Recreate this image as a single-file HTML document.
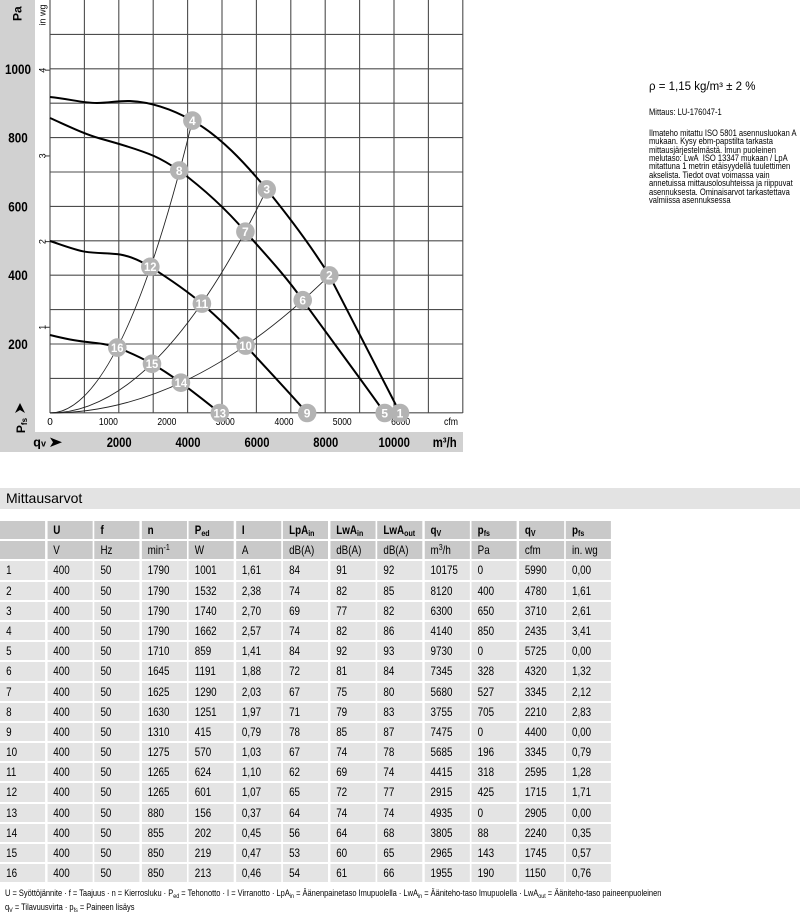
<!DOCTYPE html>
<html><head><meta charset="utf-8">
<style>
html,body{margin:0;padding:0;background:#fff}
body{width:800px;height:914px;position:relative;overflow:hidden;font-family:"Liberation Sans",Arial,sans-serif;color:#000}
.abs{position:absolute;white-space:nowrap}
.sc{transform-origin:0 0}
.tb{position:absolute;left:0;top:521px;width:745.12px;display:grid;grid-template-columns:repeat(13,1fr);column-gap:2.44px;row-gap:2px;grid-auto-rows:18.2px;transform:scaleX(.82);transform-origin:0 0;font-size:12px;background:#fff}
.tb div{background:#e4e4e4;padding-left:7.5px;line-height:18.2px;white-space:nowrap;overflow:hidden}
.tb .h{background:#c9c9c9;font-weight:bold}
.tb .u{background:#c9c9c9}
sub{font-size:72%;line-height:0;vertical-align:-2px}
sup{font-size:72%;line-height:0;vertical-align:4px}
</style></head><body>

<svg class="abs" style="left:0;top:0" width="800" height="460" viewBox="0 0 800 460" font-family="Liberation Sans, Arial, sans-serif">
<rect x="0" y="0" width="35" height="452" fill="#d1d1d1"/>
<rect x="0" y="432" width="463" height="20" fill="#d1d1d1"/>
<g stroke="#4d4d4d" stroke-width="1.1" fill="none">
<path d="M50,0V413M84.4,0V413M118.8,0V413M153.2,0V413M187.6,0V413M222,0V413M256.4,0V413M290.8,0V413M325.2,0V413M359.6,0V413M394,0V413M428.4,0V413M462.8,0V413"/>
<path d="M50,34.4H462.8M50,68.8H462.8M50,103.2H462.8M50,137.6H462.8M50,172H462.8M50,206.4H462.8M50,240.8H462.8M50,275.2H462.8M50,309.6H462.8M50,344H462.8M50,378.4H462.8M50,412.8H462.8"/>
<path d="M45,70.2H50M45,155.9H50M45,241.6H50M45,327.3H50"/>
</g>
<g font-weight="bold" font-size="13.5" text-anchor="middle">
<text x="18" y="73.8" textLength="26" lengthAdjust="spacingAndGlyphs">1000</text>
<text x="18" y="142.6" textLength="19.5" lengthAdjust="spacingAndGlyphs">800</text>
<text x="18" y="211.4" textLength="19.5" lengthAdjust="spacingAndGlyphs">600</text>
<text x="18" y="280.2" textLength="19.5" lengthAdjust="spacingAndGlyphs">400</text>
<text x="18" y="349" textLength="19.5" lengthAdjust="spacingAndGlyphs">200</text>
</g>
<text transform="translate(21.7,13.7) rotate(-90)" text-anchor="middle" font-weight="bold" font-size="12">Pa</text>
<text transform="translate(25,425.5) rotate(-90)" text-anchor="middle" font-weight="bold" font-size="12">P<tspan font-size="8" dy="2">fs</tspan></text>
<polygon points="20,403 25,413 20,410 15,413" fill="#000"/>
<g font-size="9" text-anchor="middle">
<text transform="translate(45.5,15) rotate(-90)">in wg</text>
<text transform="translate(45.5,70.2) rotate(-90)">4</text>
<text transform="translate(45.5,155.9) rotate(-90)">3</text>
<text transform="translate(45.5,241.6) rotate(-90)">2</text>
<text transform="translate(45.5,327.3) rotate(-90)">1</text>
</g>
<g font-size="10" text-anchor="middle">
<text x="50" y="425">0</text>
<text x="108.4" y="425" textLength="19" lengthAdjust="spacingAndGlyphs">1000</text>
<text x="166.9" y="425" textLength="19" lengthAdjust="spacingAndGlyphs">2000</text>
<text x="225.3" y="425" textLength="19" lengthAdjust="spacingAndGlyphs">3000</text>
<text x="284" y="425" textLength="19" lengthAdjust="spacingAndGlyphs">4000</text>
<text x="342.2" y="425" textLength="19" lengthAdjust="spacingAndGlyphs">5000</text>
<text x="400.6" y="425" textLength="19" lengthAdjust="spacingAndGlyphs">6000</text>
<text x="451" y="425" textLength="14" lengthAdjust="spacingAndGlyphs">cfm</text>
</g>
<g font-weight="bold" font-size="13.5" text-anchor="middle">
<text x="119.2" y="446.8" textLength="25" lengthAdjust="spacingAndGlyphs">2000</text>
<text x="188" y="446.8" textLength="25" lengthAdjust="spacingAndGlyphs">4000</text>
<text x="257" y="446.8" textLength="25" lengthAdjust="spacingAndGlyphs">6000</text>
<text x="325.8" y="446.8" textLength="25" lengthAdjust="spacingAndGlyphs">8000</text>
<text x="394.2" y="446.8" textLength="31.5" lengthAdjust="spacingAndGlyphs">10000</text>
<text x="444.7" y="446.8" textLength="24" lengthAdjust="spacingAndGlyphs">m³/h</text>
</g>
<text x="33.3" y="446.5" font-weight="bold" font-size="12.5">q<tspan font-size="9" dy="0">v</tspan></text>
<polygon points="62,442.3 50,437.5 53,442.3 50,447" fill="#000"/>
<g stroke="#222" stroke-width="0.9" fill="none">
<path d="M50,413 Q121.2,413 192.4,120.6"/>
<path d="M50,413 Q158.35,413 266.7,189.4"/>
<path d="M50,413 Q189.65,413 329.3,275.4"/>
</g>
<g stroke="#000" stroke-width="2" fill="none" stroke-linejoin="round">
<path d="M50,97 C70,99 82,103 97,103 C110,103 118,100.5 130,101 C150,102 170,108 192.4,120.6 C220,136 245,163 266.7,189.4 C290,218 311,246 329.3,275.4 C341,299 385,383 400,413"/>
<path d="M50,118 C68,126 84,134 100,138.5 C120,144 140,150 154,156 C163,160 171,165 179.2,170.5 C200,186 225,208 245.4,231.7 C265,254 285,275 302.7,300.2 C330,338 360,378 384.7,413"/>
<path d="M50,241 C62,245 75,250 85,251.7 C97,253.5 110,253 120,254.5 C132,256.5 142,262 150.3,266.8 C168,278 186,290 201.9,303.6 C216,316 231,330 245.6,345.6 C266,368 287,390 307.1,413"/>
<path d="M50,335 C62,338 73,340.5 85,341.7 C97,343 108,344 117.3,347.6 C130,352.5 141,357.5 152,363.8 C162,369.5 171,375.5 180.9,382.7 C194,392.5 207,402.5 219.8,413"/>
</g>
<g fill="#b3b3b3">
<circle cx="329.3" cy="275.4" r="9.3"/>
<circle cx="266.7" cy="189.4" r="9.3"/>
<circle cx="192.4" cy="120.6" r="9.3"/>
<circle cx="384.7" cy="413" r="9.3"/>
<circle cx="400" cy="413" r="9.3"/>
<circle cx="302.7" cy="300.2" r="9.3"/>
<circle cx="245.4" cy="231.7" r="9.3"/>
<circle cx="179.2" cy="170.5" r="9.3"/>
<circle cx="307.1" cy="413" r="9.3"/>
<circle cx="245.6" cy="345.6" r="9.3"/>
<circle cx="201.9" cy="303.6" r="9.3"/>
<circle cx="150.3" cy="266.8" r="9.3"/>
<circle cx="219.8" cy="413" r="9.3"/>
<circle cx="180.9" cy="382.7" r="9.3"/>
<circle cx="152" cy="363.8" r="9.3"/>
<circle cx="117.3" cy="347.6" r="9.3"/>
</g>
<g fill="#fff" font-weight="bold" font-size="12" text-anchor="middle">
<text x="329.3" y="279.7">2</text>
<text x="266.7" y="193.7">3</text>
<text x="192.4" y="124.9">4</text>
<text x="384.7" y="417.3">5</text>
<text x="400" y="417.3">1</text>
<text x="302.7" y="304.5">6</text>
<text x="245.4" y="236">7</text>
<text x="179.2" y="174.8">8</text>
<text x="307.1" y="417.3">9</text>
<text x="245.6" y="349.9" textLength="12.5" lengthAdjust="spacingAndGlyphs">10</text>
<text x="201.9" y="307.9" textLength="12.5" lengthAdjust="spacingAndGlyphs">11</text>
<text x="150.3" y="271.1" textLength="12.5" lengthAdjust="spacingAndGlyphs">12</text>
<text x="219.8" y="417.3" textLength="12.5" lengthAdjust="spacingAndGlyphs">13</text>
<text x="180.9" y="387" textLength="12.5" lengthAdjust="spacingAndGlyphs">14</text>
<text x="152" y="368.1" textLength="12.5" lengthAdjust="spacingAndGlyphs">15</text>
<text x="117.3" y="351.9" textLength="12.5" lengthAdjust="spacingAndGlyphs">16</text>
</g>
</svg>

<div class="abs" style="left:649px;top:79px;font-size:11.5px;line-height:16px">ρ = 1,15 kg/m³ ± 2 %</div>
<div class="abs sc" style="left:649px;top:107.3px;font-size:9px;line-height:10px;transform:scaleX(.84)">Mittaus: LU-176047-1</div>
<div class="abs sc" style="left:649px;top:128.8px;font-size:9px;line-height:8.4px;transform:scaleX(.84)">Ilmateho mitattu ISO 5801 asennusluokan A<br>mukaan. Kysy ebm-papstilta tarkasta<br>mittausjärjestelmästä. Imun puoleinen<br>melutaso: LwA&nbsp; ISO 13347 mukaan / LpA<br>mitattuna 1 metrin etäisyydellä tuulettimen<br>akselista. Tiedot ovat voimassa vain<br>annetuissa mittausolosuhteissa ja riippuvat<br>asennuksesta. Ominaisarvot tarkastettava<br>valmiissa asennuksessa</div>

<div class="abs" style="left:0;top:488px;width:800px;height:21px;background:#e3e3e3"></div>
<div class="abs" style="left:6px;top:488px;font-size:14px;line-height:21px">Mittausarvot</div>

<div class="tb">
<div class="h"></div><div class="h">U</div><div class="h">f</div><div class="h">n</div><div class="h">P<sub>ed</sub></div><div class="h">I</div><div class="h">LpA<sub>in</sub></div><div class="h">LwA<sub>in</sub></div><div class="h">LwA<sub>out</sub></div><div class="h">q<sub>V</sub></div><div class="h">p<sub>fs</sub></div><div class="h">q<sub>V</sub></div><div class="h">p<sub>fs</sub></div>
<div class="u"></div><div class="u">V</div><div class="u">Hz</div><div class="u">min<sup>-1</sup></div><div class="u">W</div><div class="u">A</div><div class="u">dB(A)</div><div class="u">dB(A)</div><div class="u">dB(A)</div><div class="u">m<sup>3</sup>/h</div><div class="u">Pa</div><div class="u">cfm</div><div class="u">in. wg</div>
<div>1</div><div>400</div><div>50</div><div>1790</div><div>1001</div><div>1,61</div><div>84</div><div>91</div><div>92</div><div>10175</div><div>0</div><div>5990</div><div>0,00</div>
<div>2</div><div>400</div><div>50</div><div>1790</div><div>1532</div><div>2,38</div><div>74</div><div>82</div><div>85</div><div>8120</div><div>400</div><div>4780</div><div>1,61</div>
<div>3</div><div>400</div><div>50</div><div>1790</div><div>1740</div><div>2,70</div><div>69</div><div>77</div><div>82</div><div>6300</div><div>650</div><div>3710</div><div>2,61</div>
<div>4</div><div>400</div><div>50</div><div>1790</div><div>1662</div><div>2,57</div><div>74</div><div>82</div><div>86</div><div>4140</div><div>850</div><div>2435</div><div>3,41</div>
<div>5</div><div>400</div><div>50</div><div>1710</div><div>859</div><div>1,41</div><div>84</div><div>92</div><div>93</div><div>9730</div><div>0</div><div>5725</div><div>0,00</div>
<div>6</div><div>400</div><div>50</div><div>1645</div><div>1191</div><div>1,88</div><div>72</div><div>81</div><div>84</div><div>7345</div><div>328</div><div>4320</div><div>1,32</div>
<div>7</div><div>400</div><div>50</div><div>1625</div><div>1290</div><div>2,03</div><div>67</div><div>75</div><div>80</div><div>5680</div><div>527</div><div>3345</div><div>2,12</div>
<div>8</div><div>400</div><div>50</div><div>1630</div><div>1251</div><div>1,97</div><div>71</div><div>79</div><div>83</div><div>3755</div><div>705</div><div>2210</div><div>2,83</div>
<div>9</div><div>400</div><div>50</div><div>1310</div><div>415</div><div>0,79</div><div>78</div><div>85</div><div>87</div><div>7475</div><div>0</div><div>4400</div><div>0,00</div>
<div>10</div><div>400</div><div>50</div><div>1275</div><div>570</div><div>1,03</div><div>67</div><div>74</div><div>78</div><div>5685</div><div>196</div><div>3345</div><div>0,79</div>
<div>11</div><div>400</div><div>50</div><div>1265</div><div>624</div><div>1,10</div><div>62</div><div>69</div><div>74</div><div>4415</div><div>318</div><div>2595</div><div>1,28</div>
<div>12</div><div>400</div><div>50</div><div>1265</div><div>601</div><div>1,07</div><div>65</div><div>72</div><div>77</div><div>2915</div><div>425</div><div>1715</div><div>1,71</div>
<div>13</div><div>400</div><div>50</div><div>880</div><div>156</div><div>0,37</div><div>64</div><div>74</div><div>74</div><div>4935</div><div>0</div><div>2905</div><div>0,00</div>
<div>14</div><div>400</div><div>50</div><div>855</div><div>202</div><div>0,45</div><div>56</div><div>64</div><div>68</div><div>3805</div><div>88</div><div>2240</div><div>0,35</div>
<div>15</div><div>400</div><div>50</div><div>850</div><div>219</div><div>0,47</div><div>53</div><div>60</div><div>65</div><div>2965</div><div>143</div><div>1745</div><div>0,57</div>
<div>16</div><div>400</div><div>50</div><div>850</div><div>213</div><div>0,46</div><div>54</div><div>61</div><div>66</div><div>1955</div><div>190</div><div>1150</div><div>0,76</div>
</div>

<div class="abs sc" style="left:5px;top:886px;font-size:9px;line-height:14px;transform:scaleX(.83)">U = Syöttöjännite · f = Taajuus · n = Kierrosluku · P<sub>ed</sub> = Tehonotto · I = Virranotto · LpA<sub>in</sub> = Äänenpainetaso Imupuolella · LwA<sub>in</sub> = Ääniteho-taso Imupuolella · LwA<sub>out</sub> = Ääniteho-taso paineenpuoleinen<br>q<sub>V</sub> = Tilavuusvirta · p<sub>fs</sub> = Paineen lisäys</div>

</body></html>
